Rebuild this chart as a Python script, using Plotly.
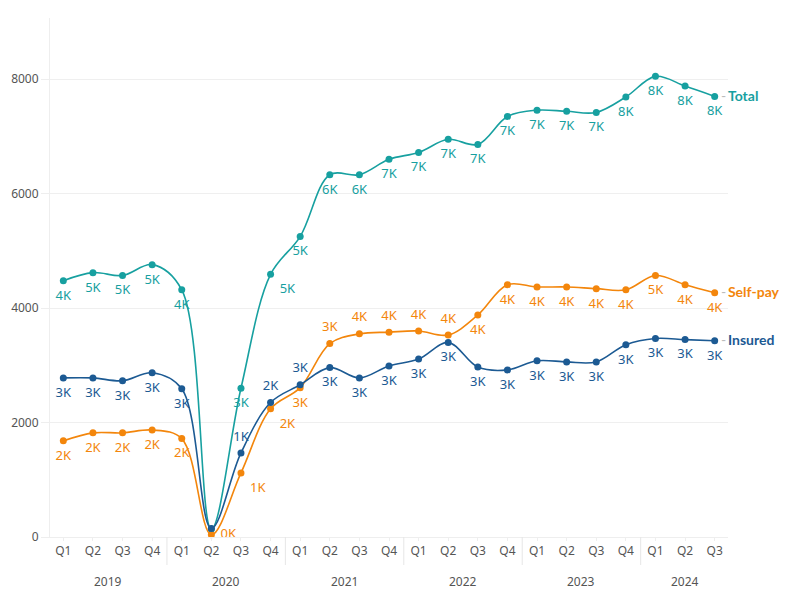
import plotly.graph_objects as go

years = ["2019"] * 4 + ["2020"] * 4 + ["2021"] * 4 + ["2022"] * 4 + ["2023"] * 4 + ["2024"] * 3
quarters = ["Q1", "Q2", "Q3", "Q4"] * 5 + ["Q1", "Q2", "Q3"]

total = [4480, 4620, 4570, 4760, 4320, 140, 2600, 4590, 5250, 6330, 6330, 6600,
         6720, 6950, 6860, 7350, 7460, 7440, 7420, 7690, 8050, 7880, 7700]
insured = [2780, 2780, 2730, 2870, 2590, 150, 1470, 2350, 2660, 2960, 2780, 2990,
           3110, 3400, 2970, 2920, 3080, 3060, 3060, 3360, 3470, 3450, 3430]
self_pay = [1680, 1820, 1820, 1870, 1720, 40, 1120, 2240, 2610, 3380, 3550, 3580,
            3600, 3530, 3880, 4410, 4370, 4370, 4340, 4320, 4570, 4410, 4270]

series_names = ["Total", "Self-pay", "Insured"]

C_TOTAL = "#17a0a0"
C_INS = "#1c5a93"
C_SELF = "#f3860c"
FONT = "Noto Sans"

cats = [f"{y} {q}" for y, q in zip(years, quarters)]
n = len(cats)


def klabel(v):
    return f"{round(v / 1000)}K"


def labels(vals, hide=()):
    return ["" if i in hide else klabel(v) for i, v in enumerate(vals)]


pos_total = ["bottom center"] * n
pos_total[7] = "bottom right"

pos_ins = ["bottom center"] * n
for i in (6, 7, 8):
    pos_ins[i] = "top center"

pos_self = ["bottom center"] * n
pos_self[5] = "middle right"
pos_self[6] = "bottom right"
pos_self[7] = "bottom right"
for i in (9, 10, 11, 12, 13):
    pos_self[i] = "top center"

fig = go.Figure()


def add(vals, color, text, pos):
    fig.add_trace(go.Scatter(
        x=cats, y=vals, mode="lines+markers",
        line=dict(color=color, width=1.6, shape="spline", smoothing=1),
        marker=dict(color=color, size=7),
        showlegend=False, cliponaxis=False, hoverinfo="skip",
    ))
    fig.add_trace(go.Scatter(
        x=cats, y=vals, mode="markers+text",
        marker=dict(color=color, size=13, opacity=0),
        text=text, textposition=pos,
        textfont=dict(color=color, size=13, family=FONT),
        showlegend=False, cliponaxis=False, hoverinfo="skip",
    ))


add(total, C_TOTAL, labels(total, hide=(5,)), pos_total)
add(self_pay, C_SELF, labels(self_pay), pos_self)
add(insured, C_INS, labels(insured, hide=(5,)), pos_ins)

for name, vals, color in zip(series_names, [total, self_pay, insured], [C_TOTAL, C_SELF, C_INS]):
    fig.add_annotation(
        xref="paper", yref="y", x=1, y=vals[-1], xanchor="left", yanchor="middle",
        xshift=-8, yshift=1, showarrow=False, borderpad=0,
        text=f"<span style='color:#bbbbbb'>-</span>&#8201;<b>{name}</b>",
        font=dict(color=color, size=14, family="Lato"),
    )

# year group labels and dividers
uniq_years = list(dict.fromkeys(years))
for yr in uniq_years:
    idx = [i for i, y in enumerate(years) if y == yr]
    mid = (idx[0] + idx[-1]) / 2
    fig.add_annotation(
        xref="x", yref="paper", x=mid, y=0, yshift=-44, yanchor="middle",
        showarrow=False, text=yr, font=dict(size=12, color="#555555", family=FONT),
    )
    if idx[0] > 0:
        fig.add_shape(
            type="line", xref="x", yref="paper", x0=idx[0] - 0.5, x1=idx[0] - 0.5,
            y0=0, y1=-0.054, line=dict(color="#e6e6e6", width=1),
        )

fig.update_layout(
    width=800, height=600,
    margin=dict(l=42, r=80, t=10, b=71),
    paper_bgcolor="white", plot_bgcolor="white",
    font=dict(family=FONT, size=12, color="#555555"),
    xaxis=dict(
        type="category", range=[-0.45, n - 1 + 0.45], automargin=False,
        tickvals=cats, ticktext=quarters,
        showline=True, linecolor="#eeeeee", linewidth=1,
        ticks="outside", tickcolor="#eeeeee", ticklen=3,
        showgrid=False, tickfont=dict(size=12, color="#555555"),
    ),
    yaxis=dict(
        range=[0, 9070], tickvals=[0, 2000, 4000, 6000, 8000], automargin=False,
        tickformat="d", showgrid=True, gridcolor="#efefef",
        showline=True, linecolor="#eeeeee", zeroline=True, zerolinecolor="#eeeeee",
        ticks="outside", tickcolor="#eeeeee", ticklen=8,
        tickfont=dict(size=12, color="#555555"),
    ),
)

fig.write_html("out.html")
